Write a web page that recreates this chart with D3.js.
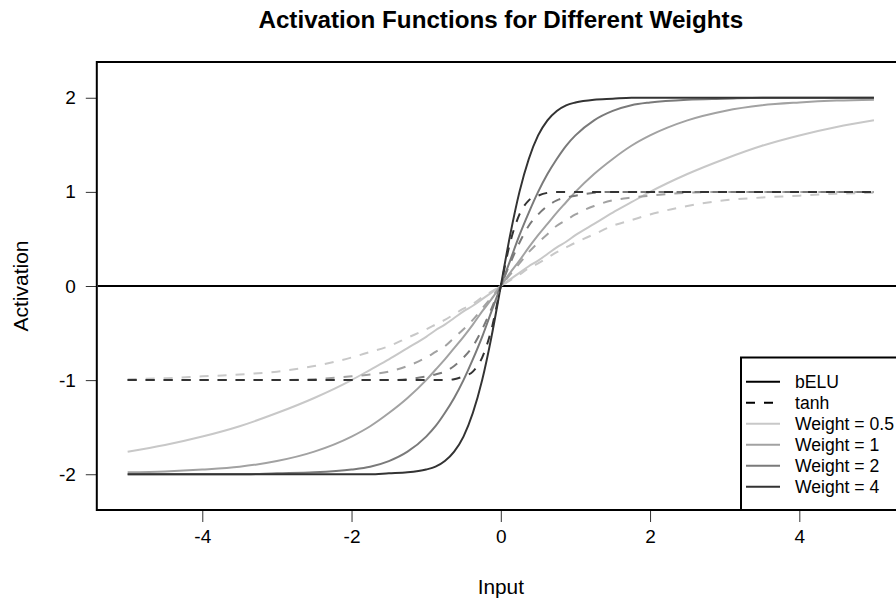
<!DOCTYPE html>
<html><head><meta charset="utf-8">
<script src="https://cdn.jsdelivr.net/npm/d3@7"></script>
<style>body{margin:0;background:#fff}svg{display:block}text{font-family:"Liberation Sans",Arial,sans-serif}</style>
</head><body><svg id="c" width="896" height="602"></svg>
<script>
// ---- data ----
const inputs = [-5,-4.5,-4,-3.5,-3,-2.5,-2,-1.75,-1.5,-1.25,-1,-0.875,-0.75,-0.625,-0.5,-0.375,-0.25,-0.125,0,0.125,0.25,0.375,0.5,0.625,0.75,0.875,1,1.25,1.5,1.75,2,2.5,3,3.5,4,4.5,5];
const weights = [0.5, 1, 2, 4];
const weightColors = ["#c8c8c8", "#a2a2a2", "#7a7a7a", "#333333"];
const belu05 = [-1.76,-1.69,-1.60,-1.49,-1.35,-1.19,-1.00,-0.89,-0.78,-0.66,-0.54,-0.47,-0.41,-0.34,-0.27,-0.21,-0.14,-0.07,0,0.07,0.14,0.21,0.27,0.34,0.41,0.47,0.54,0.66,0.78,0.89,1.00,1.19,1.35,1.49,1.60,1.69,1.76];
const belu1  = [-1.98,-1.97,-1.95,-1.92,-1.86,-1.76,-1.60,-1.49,-1.35,-1.19,-1.00,-0.89,-0.78,-0.66,-0.54,-0.41,-0.27,-0.14,0,0.14,0.27,0.41,0.54,0.66,0.78,0.89,1.00,1.19,1.35,1.49,1.60,1.76,1.86,1.92,1.95,1.97,1.98];
const belu2  = [-2.00,-2.00,-2.00,-2.00,-1.99,-1.98,-1.95,-1.92,-1.86,-1.76,-1.60,-1.49,-1.35,-1.19,-1.00,-0.78,-0.54,-0.27,0,0.27,0.54,0.78,1.00,1.19,1.35,1.49,1.60,1.76,1.86,1.92,1.95,1.98,1.99,2.00,2.00,2.00,2.00];
const belu4  = [-2.00,-2.00,-2.00,-2.00,-2.00,-2.00,-2.00,-2.00,-1.99,-1.98,-1.95,-1.92,-1.86,-1.76,-1.60,-1.35,-1.00,-0.54,0,0.54,1.00,1.35,1.60,1.76,1.86,1.92,1.95,1.98,1.99,2.00,2.00,2.00,2.00,2.00,2.00,2.00,2.00];
const tanh05 = [-0.99,-0.98,-0.96,-0.94,-0.91,-0.85,-0.76,-0.70,-0.64,-0.55,-0.46,-0.41,-0.36,-0.30,-0.24,-0.19,-0.12,-0.06,0,0.06,0.12,0.19,0.24,0.30,0.36,0.41,0.46,0.55,0.64,0.70,0.76,0.85,0.91,0.94,0.96,0.98,0.99];
const tanh1  = [-1.00,-1.00,-1.00,-1.00,-1.00,-0.99,-0.96,-0.94,-0.91,-0.85,-0.76,-0.70,-0.64,-0.55,-0.46,-0.36,-0.24,-0.12,0,0.12,0.24,0.36,0.46,0.55,0.64,0.70,0.76,0.85,0.91,0.94,0.96,0.99,1.00,1.00,1.00,1.00,1.00];
const tanh2  = [-1.00,-1.00,-1.00,-1.00,-1.00,-1.00,-1.00,-1.00,-1.00,-0.99,-0.96,-0.94,-0.91,-0.85,-0.76,-0.64,-0.46,-0.24,0,0.24,0.46,0.64,0.76,0.85,0.91,0.94,0.96,0.99,1.00,1.00,1.00,1.00,1.00,1.00,1.00,1.00,1.00];
const tanh4  = [-1.00,-1.00,-1.00,-1.00,-1.00,-1.00,-1.00,-1.00,-1.00,-1.00,-1.00,-1.00,-1.00,-0.99,-0.96,-0.91,-0.76,-0.46,0,0.46,0.76,0.91,0.96,0.99,1.00,1.00,1.00,1.00,1.00,1.00,1.00,1.00,1.00,1.00,1.00,1.00,1.00];
const xTicks = [-4, -2, 0, 2, 4];
const yTicks = [-2, -1, 0, 1, 2];
const legendLabels = ["bELU", "tanh", "Weight = 0.5", "Weight = 1", "Weight = 2", "Weight = 4"];
const titleText = "Activation Functions for Different Weights";

const beluSeries = [belu05, belu1, belu2, belu4];
const tanhSeries = [tanh05, tanh1, tanh2, tanh4];

// ---- layout ----
const svg = d3.select("#c");
const L = 97.8, R = 903.8, T = 62, B = 510;
const x = d3.scaleLinear().domain([-5.4, 5.4]).range([L, R]);
const y = d3.scaleLinear().domain([-2.38, 2.38]).range([B, T]);
const fmt = d => String(d);  // plain hyphen-minus as in the reference

svg.append("defs").append("clipPath").attr("id","clip").append("rect")
  .attr("x", L).attr("y", T).attr("width", R - L).attr("height", B - T);

const line = d3.line().x(d => x(d[0])).y(d => y(d[1])).curve(d3.curveMonotoneX);
const plot = svg.append("g").attr("clip-path", "url(#clip)");

plot.append("line").attr("x1", L).attr("x2", R).attr("y1", y(0)).attr("y2", y(0))
  .attr("stroke", "#000").attr("stroke-width", 2);

beluSeries.forEach((s, i) => {
  plot.append("path").datum(inputs.map((v, k) => [v, s[k]]))
    .attr("d", line).attr("fill", "none")
    .attr("stroke", weightColors[i]).attr("stroke-width", 2);
});
tanhSeries.forEach((s, i) => {
  plot.append("path").datum(inputs.map((v, k) => [v, s[k]]))
    .attr("d", line).attr("fill", "none")
    .attr("stroke", weightColors[i]).attr("stroke-width", 2)
    .attr("stroke-dasharray", "9,9");
});

// axes
const xAxis = d3.axisBottom(x).tickValues(xTicks).tickSize(12).tickPadding(8).tickFormat(fmt);
const gx = svg.append("g").attr("transform", `translate(0,${B})`).call(xAxis);
gx.select(".domain").remove();
gx.selectAll("text").attr("font-size", 19).attr("fill", "#000").style("font-family", '"Liberation Sans",Arial,sans-serif');
gx.selectAll("line").attr("stroke", "#333");

const yAxis = d3.axisLeft(y).tickValues(yTicks).tickSize(11).tickPadding(10).tickFormat(fmt);
const gy = svg.append("g").attr("transform", `translate(${L - 1},0)`).call(yAxis);
gy.select(".domain").remove();
gy.selectAll("text").attr("font-size", 19).attr("fill", "#000").style("font-family", '"Liberation Sans",Arial,sans-serif');
gy.selectAll("line").attr("stroke", "#333");

svg.append("rect").attr("x", L - 1).attr("y", T).attr("width", R - L + 1).attr("height", B - T)
  .attr("fill", "none").attr("stroke", "#000").attr("stroke-width", 2);

// title and axis labels
svg.append("text").attr("x", (L + R) / 2).attr("y", 28).attr("text-anchor", "middle")
  .attr("font-size", 24.2).attr("font-weight", "bold").text(titleText);
svg.append("text").attr("x", (L + R) / 2).attr("y", 594).attr("text-anchor", "middle")
  .attr("font-size", 20.8).text("Input");
svg.append("text").attr("transform", `translate(28,${(T + B) / 2}) rotate(-90)`).attr("text-anchor", "middle")
  .attr("font-size", 21).text("Activation");

// legend
const lg = svg.append("g");
lg.append("rect").attr("x", 741).attr("y", 357.5).attr("width", 200).attr("height", B - 357.5)
  .attr("fill", "#fff").attr("stroke", "#000").attr("stroke-width", 2);
const legendColors = ["#000", "#000"].concat(weightColors);
const legendDash = [null, "9,9", null, null, null, null];
legendLabels.forEach((lab, i) => {
  const yy = 381.7 + i * 21;
  lg.append("line").attr("x1", 746).attr("x2", 780).attr("y1", yy).attr("y2", yy)
    .attr("stroke", legendColors[i]).attr("stroke-width", 2)
    .attr("stroke-dasharray", legendDash[i]);
  lg.append("text").attr("x", 795).attr("y", yy).attr("dy", "0.35em")
    .attr("font-size", 17.6).attr("fill", "#000").text(lab);
});
</script></body></html>
